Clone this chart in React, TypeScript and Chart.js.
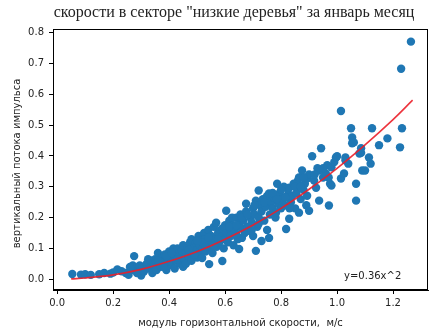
import React, { useEffect, useRef } from "react";
import { Chart, registerables } from "chart.js";

Chart.register(...registerables);

const titleText = "скорости в секторе \"низкие деревья\" за январь месяц";
const xLabelText = "модуль горизонтальной скорости,  м/с";
const yLabelText = "вертикальный потока импульса";
const fitLabel = "y=0.36x^2";

const xTicks = [0.0, 0.2, 0.4, 0.6, 0.8, 1.0, 1.2];
const yTicks = [0.0, 0.1, 0.2, 0.3, 0.4, 0.5, 0.6, 0.7, 0.8];

// observed points [speed, flux]
const lowPoints: [number, number][] = [
  [0.054, 0.017], [0.085, 0.015], [0.1, 0.016], [0.12, 0.014], [0.15, 0.016], [0.168, 0.02],
  [0.19, 0.018], [0.2, 0.022], [0.215, 0.032], [0.23, 0.026], [0.245, 0.02], [0.255, 0.014],
  [0.265, 0.03], [0.275, 0.075], [0.27, 0.045], [0.28, 0.038], [0.29, 0.028], [0.3, 0.012],
  [0.26, 0.04], [0.285, 0.02], [0.295, 0.045],
];
const midLowPoints: [number, number][] = [
  [0.305, 0.04], [0.31, 0.025], [0.32, 0.05], [0.33, 0.035], [0.335, 0.06], [0.34, 0.02],
  [0.345, 0.045], [0.35, 0.065], [0.355, 0.03], [0.36, 0.085], [0.365, 0.05], [0.37, 0.04],
  [0.375, 0.07], [0.38, 0.055], [0.385, 0.08], [0.39, 0.03], [0.395, 0.06], [0.4, 0.045],
  [0.4, 0.09], [0.405, 0.07], [0.41, 0.055], [0.415, 0.1], [0.42, 0.035], [0.42, 0.075],
  [0.425, 0.06], [0.43, 0.1], [0.435, 0.085], [0.44, 0.05], [0.44, 0.07], [0.445, 0.092],
  [0.45, 0.04], [0.45, 0.11], [0.325, 0.065], [0.36, 0.06], [0.39, 0.075], [0.41, 0.085],
  [0.43, 0.065], [0.38, 0.04],
];
const midPoints: [number, number][] = [
  [0.455, 0.065], [0.46, 0.05], [0.46, 0.085], [0.465, 0.1], [0.47, 0.075], [0.475, 0.12],
  [0.48, 0.06], [0.48, 0.13], [0.485, 0.09], [0.49, 0.105], [0.495, 0.118], [0.5, 0.07],
  [0.5, 0.095], [0.505, 0.14], [0.51, 0.08], [0.51, 0.11], [0.515, 0.125], [0.518, 0.069],
  [0.52, 0.1], [0.525, 0.15], [0.53, 0.09], [0.53, 0.13], [0.535, 0.115], [0.54, 0.16],
  [0.543, 0.049], [0.545, 0.1], [0.55, 0.14], [0.55, 0.12], [0.555, 0.085], [0.56, 0.17],
  [0.565, 0.13], [0.568, 0.183], [0.57, 0.105], [0.575, 0.15], [0.58, 0.12], [0.585, 0.16],
  [0.59, 0.059], [0.59, 0.14], [0.595, 0.1], [0.6, 0.13], [0.6, 0.175], [0.47, 0.095],
  [0.49, 0.08], [0.52, 0.12], [0.54, 0.135], [0.56, 0.11], [0.575, 0.13], [0.59, 0.165],
  [0.5, 0.125], [0.53, 0.105],
];
const midHighPoints: [number, number][] = [
  [0.604, 0.222], [0.605, 0.15], [0.61, 0.12], [0.615, 0.19], [0.62, 0.16], [0.62, 0.14],
  [0.625, 0.2], [0.63, 0.11], [0.63, 0.175], [0.635, 0.155], [0.64, 0.2], [0.645, 0.13],
  [0.65, 0.098], [0.65, 0.18], [0.655, 0.21], [0.66, 0.134], [0.66, 0.165], [0.665, 0.19],
  [0.67, 0.15], [0.675, 0.245], [0.675, 0.22], [0.68, 0.17], [0.685, 0.157], [0.69, 0.2],
  [0.695, 0.185], [0.7, 0.23], [0.7, 0.14], [0.705, 0.21], [0.71, 0.255], [0.71, 0.092],
  [0.715, 0.17], [0.72, 0.288], [0.72, 0.2], [0.725, 0.24], [0.73, 0.124], [0.73, 0.22],
  [0.735, 0.26], [0.74, 0.19], [0.745, 0.235], [0.75, 0.27], [0.75, 0.16], [0.615, 0.17],
  [0.64, 0.175], [0.66, 0.2], [0.68, 0.21], [0.695, 0.16], [0.705, 0.24], [0.72, 0.18],
  [0.74, 0.25], [0.64, 0.145],
];
const highPoints: [number, number][] = [
  [0.757, 0.278], [0.757, 0.134], [0.76, 0.21], [0.765, 0.25], [0.77, 0.23], [0.775, 0.265],
  [0.78, 0.2], [0.782, 0.216], [0.786, 0.31], [0.79, 0.245], [0.795, 0.28], [0.8, 0.23],
  [0.805, 0.26], [0.81, 0.3], [0.815, 0.24], [0.818, 0.163], [0.82, 0.27], [0.825, 0.29],
  [0.829, 0.196], [0.829, 0.297], [0.835, 0.25], [0.84, 0.271], [0.845, 0.31], [0.85, 0.23],
  [0.855, 0.28], [0.86, 0.32], [0.864, 0.216], [0.864, 0.33], [0.87, 0.26], [0.875, 0.353],
  [0.88, 0.29], [0.885, 0.31], [0.89, 0.24], [0.893, 0.327], [0.893, 0.271], [0.9, 0.222],
  [0.9, 0.34], [0.77, 0.28], [0.785, 0.26], [0.8, 0.29], [0.815, 0.265], [0.83, 0.23],
  [0.85, 0.3], [0.87, 0.3], [0.88, 0.33],
];
const topPoints: [number, number][] = [
  [0.911, 0.399], [0.918, 0.32], [0.925, 0.297], [0.93, 0.36], [0.936, 0.353], [0.936, 0.255],
  [0.943, 0.425], [0.95, 0.33], [0.96, 0.343], [0.965, 0.37], [0.971, 0.239], [0.975, 0.31],
  [0.98, 0.363], [0.98, 0.304], [0.99, 0.38], [0.996, 0.395], [1.0, 0.399], [1.014, 0.546],
  [1.014, 0.327], [1.025, 0.343], [1.03, 0.395], [1.03, 0.386], [1.04, 0.375], [1.05, 0.49],
  [1.054, 0.46], [1.054, 0.441], [1.06, 0.444], [1.068, 0.31], [1.068, 0.255], [1.08, 0.408],
  [1.086, 0.425], [1.086, 0.41], [1.09, 0.353], [1.1, 0.353], [1.114, 0.395], [1.12, 0.375],
  [1.125, 0.49], [1.15, 0.435], [1.18, 0.457], [1.225, 0.428], [1.229, 0.683], [1.232, 0.49],
  [1.264, 0.771], [0.92, 0.34], [0.95, 0.36], [0.97, 0.33],
];

// fitted curve
const fitX = [0.05, 0.1, 0.2, 0.3, 0.4, 0.5, 0.6, 0.7, 0.8, 0.9, 1.0, 1.1, 1.2, 1.27];
const fitY = [0.001, 0.004, 0.014, 0.032, 0.058, 0.09, 0.13, 0.176, 0.23, 0.292, 0.36, 0.436, 0.518, 0.581];

const allPoints = [...lowPoints, ...midLowPoints, ...midPoints, ...midHighPoints, ...highPoints, ...topPoints];

const framePlugin = {
  id: "framePlugin",
  afterDraw(chart: any) {
    const { ctx, chartArea, scales } = chart;
    const { left, top, right, bottom } = chartArea;
    ctx.save();
    ctx.strokeStyle = "#000";
    ctx.lineWidth = 1;
    ctx.strokeRect(Math.round(left) + 0.5, Math.round(top) + 0.5, Math.round(right - left) - 1, Math.round(bottom - top) - 1);
    ctx.fillStyle = "#222";
    ctx.font = '16px "Liberation Serif"';
    ctx.textAlign = "center";
    ctx.textBaseline = "middle";
    ctx.fillText(titleText, 234, 13);
    ctx.font = '10px "DejaVu Sans"';
    ctx.fillText(xLabelText, (left + right) / 2, 323);
    ctx.save();
    ctx.translate(17, (top + bottom) / 2 + 4);
    ctx.rotate(-Math.PI / 2);
    ctx.fillText(yLabelText, 0, 0);
    ctx.restore();
    ctx.textAlign = "left";
    ctx.textBaseline = "alphabetic";
    ctx.fillText(fitLabel, scales.x.getPixelForValue(1.025), scales.y.getPixelForValue(0.0));
    ctx.restore();
  },
};

export default function App() {
  const ref = useRef<HTMLCanvasElement | null>(null);
  useEffect(() => {
    if (!ref.current) return;
    const chart = new Chart(ref.current, {
      type: "scatter",
      data: {
        datasets: [
          {
            type: "line",
            data: fitX.map((x, i) => ({ x, y: fitY[i] })),
            borderColor: "rgba(235,30,40,0.9)",
            borderWidth: 1.6,
            pointRadius: 0,
            tension: 0.4,
            fill: false,
            order: 0,
          } as any,
          {
            data: allPoints.map(([x, y]) => ({ x, y })),
            backgroundColor: "#1f77b4",
            borderWidth: 0,
            pointRadius: 4.2,
            order: 1,
          },
        ],
      },
      options: {
        responsive: false,
        animation: false,
        layout: { padding: { top: 29, right: 5, left: 0, bottom: 0 } },
        plugins: { legend: { display: false }, tooltip: { enabled: false } },
        scales: {
          x: {
            type: "linear",
            min: -0.015,
            max: 1.325,
            afterBuildTicks: (s: any) => { s.ticks = xTicks.map((v) => ({ value: v })); },
            afterFit: (s: any) => { s.height = 42; },
            grid: { drawOnChartArea: false, drawTicks: true, tickLength: 4, color: "#000" },
            border: { display: true, color: "#000" },
            ticks: { color: "#222", padding: 3, font: { family: "DejaVu Sans", size: 10 }, callback: (v: any) => Number(v).toFixed(1), maxRotation: 0 },
          },
          y: {
            type: "linear",
            min: -0.035,
            max: 0.812,
            afterBuildTicks: (s: any) => { s.ticks = yTicks.map((v) => ({ value: v })); },
            afterFit: (s: any) => { s.width = 53; },
            grid: { drawOnChartArea: false, drawTicks: true, tickLength: 4, color: "#000" },
            border: { display: true, color: "#000" },
            ticks: { color: "#222", padding: 5, font: { family: "DejaVu Sans", size: 10 }, callback: (v: any) => Number(v).toFixed(1) },
          },
        },
      },
      plugins: [framePlugin],
    });
    return () => chart.destroy();
  }, []);
  return (
    <div style={{ position: "absolute", left: 0, top: 0, width: 433, height: 332, background: "#fff" }}>
      <canvas ref={ref} width={433} height={332} style={{ display: "block" }} />
    </div>
  );
}
